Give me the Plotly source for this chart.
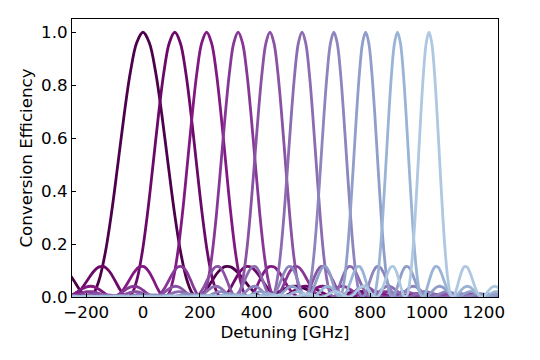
import numpy as np
import plotly.graph_objects as go

# Normalized line shape: offset (in units of each curve's width) -> efficiency
profile_offset = [round(0.2 * i, 1) for i in range(141)]
profile_eff = [1, 0.9606, 0.8495, 0.6863, 0.4988, 0.3166, 0.1652, 0.0611, 0.0088, 0.002,
               0.0263, 0.0634, 0.0968, 0.1148, 0.1129, 0.0936, 0.0644, 0.0343, 0.0116, 0.0008,
               0.0022, 0.0123, 0.0255, 0.0362, 0.0406, 0.0375, 0.0285, 0.017, 0.0068, 0.0009,
               0.0005, 0.0046, 0.0111, 0.0171, 0.0203, 0.0198, 0.0157, 0.0099, 0.0043, 0.0007,
               0.0001, 0.0023, 0.0061, 0.0098, 0.0121, 0.0121, 0.0099, 0.0064, 0.0029, 0.0006,
               0.0001, 0.0014, 0.0038, 0.0064, 0.008, 0.0082, 0.0068, 0.0045, 0.0021, 0.0004,
               0, 0.0009, 0.0026, 0.0045, 0.0057, 0.0059, 0.0049, 0.0033, 0.0016, 0.0003,
               0, 0.0006, 0.0019, 0.0033, 0.0042, 0.0044, 0.0038, 0.0025, 0.0012, 0.0003,
               0, 0.0005, 0.0015, 0.0025, 0.0033, 0.0034, 0.003, 0.002, 0.001, 0.0002,
               0, 0.0004, 0.0011, 0.002, 0.0026, 0.0028, 0.0024, 0.0016, 0.0008, 0.0002,
               0, 0.0003, 0.0009, 0.0016, 0.0021, 0.0023, 0.002, 0.0013, 0.0007, 0.0002,
               0, 0.0002, 0.0008, 0.0013, 0.0018, 0.0019, 0.0016, 0.0011, 0.0006, 0.0001,
               0, 0.0002, 0.0006, 0.0011, 0.0015, 0.0016, 0.0014, 0.001, 0.0005, 0.0001,
               0, 0.0002, 0.0005, 0.001, 0.0013, 0.0014, 0.0012, 0.0008, 0.0004, 0.0001, 0]

# Peak detuning of each curve [GHz] and its width scale [GHz]
peak_centers = [0, 112, 224, 335, 447, 560, 672, 784, 896, 1007]
peak_widths = [111, 96, 85, 76, 69, 63, 58, 54, 51, 48]

colors = ['rgb(77, 0, 75)', 'rgb(108, 9, 104)', 'rgb(130, 25, 131)', 'rgb(135, 55, 150)',
          'rgb(138, 82, 165)', 'rgb(140, 107, 177)', 'rgb(140, 133, 190)', 'rgb(144, 158, 202)',
          'rgb(154, 180, 214)', 'rgb(174, 200, 225)']

off = np.array(profile_offset)
eff = np.array(profile_eff)
off_full = np.concatenate([-off[::-1], off[1:]])
eff_full = np.concatenate([eff[::-1], eff[1:]])

fig = go.Figure()
for c, w, col in zip(peak_centers, peak_widths, colors):
    fig.add_trace(go.Scatter(x=c + w * off_full, y=eff_full, mode="lines",
                             line=dict(color=col, width=2.8, shape="spline"),
                             showlegend=False, hoverinfo="skip"))

FS = 16.7
# page body has an 8px default margin, so the figure is 8px smaller and margins shifted
fig.update_layout(width=532, height=352, margin=dict(l=64, r=42, t=11, b=63, autoexpand=False),
                  plot_bgcolor="white", paper_bgcolor="white",
                  font=dict(family="DejaVu Sans", size=FS, color="black"))
fig.update_xaxes(range=[-250, 1250], showgrid=False, zeroline=False, showline=True,
                 linecolor="black", linewidth=1, mirror=True, ticks="inside", ticklen=4,
                 tickcolor="black", dtick=200, automargin=False,
                 title=dict(text="Detuning [GHz]", standoff=2, font=dict(size=FS)))
fig.update_yaxes(range=[0, 1.05], showgrid=False, zeroline=False, showline=True,
                 linecolor="black", linewidth=1, mirror=True, ticks="inside", ticklen=4,
                 tickcolor="black", dtick=0.2, tickformat=".1f", automargin=False,
                 title=dict(text="Conversion Efficiency", standoff=4, font=dict(size=FS)))
fig.write_html("out.html")
